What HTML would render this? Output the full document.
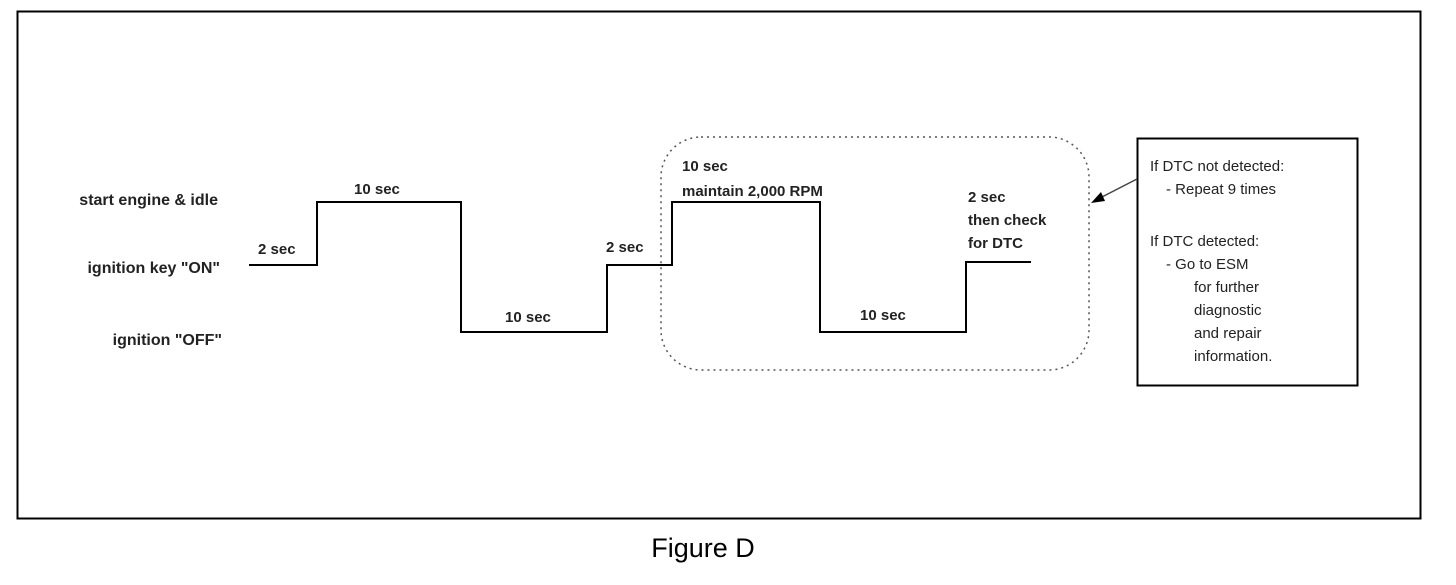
<!DOCTYPE html>
<html><head><style>
body{margin:0;background:#fff;width:1456px;height:580px;overflow:hidden}
svg text{font-family:"Liberation Sans",Arial,sans-serif;fill:#222}
</style></head><body>
<svg width="1456" height="580" xmlns="http://www.w3.org/2000/svg">
<rect x="17.5" y="11.5" width="1403" height="507" fill="none" stroke="#000" stroke-width="2"/>
<g font-size="16" font-weight="bold" text-anchor="end">
<text x="218" y="205">start engine &amp; idle</text>
<text x="220" y="273">ignition key "ON"</text>
<text x="222" y="345">ignition "OFF"</text>
</g>
<polyline points="249,265 317,265 317,202 461,202 461,332 607,332 607,265 672,265 672,202 820,202 820,332 966,332 966,262 1031,262" fill="none" stroke="#000" stroke-width="2"/>
<g font-size="15" font-weight="bold">
<text x="258" y="254">2 sec</text>
<text x="354" y="194">10 sec</text>
<text x="505" y="322">10 sec</text>
<text x="606" y="252">2 sec</text>
<text x="682" y="171">10 sec</text>
<text x="682" y="196">maintain 2,000 RPM</text>
<text x="860" y="320">10 sec</text>
<text x="968" y="202">2 sec</text>
<text x="968" y="225">then check</text>
<text x="968" y="248">for DTC</text>
</g>
<rect x="661" y="137" width="428" height="233" rx="40" fill="none" stroke="#555" stroke-width="1.5" stroke-dasharray="2,4"/>
<rect x="1137.5" y="138.5" width="220" height="247" fill="none" stroke="#000" stroke-width="2"/>
<line x1="1137" y1="179" x2="1100" y2="198" stroke="#444" stroke-width="1.5"/>
<polygon points="1091,203 1101,192 1105,201" fill="#000"/>
<g font-size="15">
<text x="1150" y="171">If DTC not detected:</text>
<text x="1166" y="194">- Repeat 9 times</text>
<text x="1150" y="246">If DTC detected:</text>
<text x="1166" y="269">- Go to ESM</text>
<text x="1194" y="292">for further</text>
<text x="1194" y="315">diagnostic</text>
<text x="1194" y="338">and repair</text>
<text x="1194" y="361">information.</text>
</g>
<text x="703" y="557" font-size="27" text-anchor="middle" style="fill:#000">Figure D</text>
</svg>
</body></html>
